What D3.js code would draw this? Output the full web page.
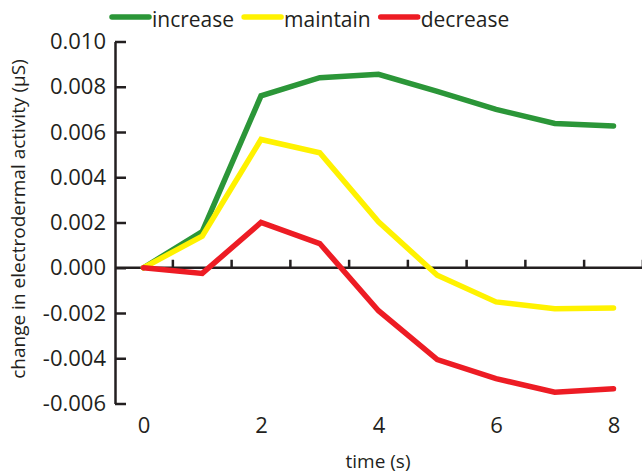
<!DOCTYPE html>
<html>
<head>
<meta charset="utf-8">
<script src="https://cdn.jsdelivr.net/npm/d3@7"></script>
<style>
  body { margin: 0; background: #fff; }
  svg { display: block; font-family: "Open Sans", sans-serif; }
</style>
</head>
<body>
<div id="chart"></div>
<script>
// time points (s)
const times = [0, 1, 2, 3, 4, 5, 6, 7, 8];

// change in electrodermal activity (µS)
const increase = [0, 0.0016, 0.0076, 0.0084, 0.00855, 0.0078, 0.0070, 0.00638, 0.00627];
const maintain = [0, 0.0014, 0.00567, 0.00508, 0.00203, -0.00033, -0.00151, -0.00181, -0.00178];
const decrease = [0, -0.00025, 0.0020, 0.00107, -0.0019, -0.00406, -0.0049, -0.0055, -0.00535];

const seriesNames = ["increase", "maintain", "decrease"];
const seriesColors = ["#2b9638", "#fff200", "#ed1c24"];

const yTicks = [0.010, 0.008, 0.006, 0.004, 0.002, 0.000, -0.002, -0.004, -0.006];
const xTicks = [0, 2, 4, 6, 8];
// small ticks on the zero line
const zeroTicks = [0.5, 1.5, 2.5, 3.5, 4.5, 5.5, 6.5, 7.5, 8.5];

const width = 642, height = 473;
const axisColor = "#231f20";

const svg = d3.select("#chart").append("svg")
    .attr("width", width)
    .attr("height", height);

const x = d3.scaleLinear().domain([0, 8]).range([143.5, 613.5]);
const y = d3.scaleLinear().domain([-0.006, 0.010]).range([403.5, 41.5]);
const yAxisX = 115;

// Zero line with upward ticks
svg.append("line")
    .attr("x1", yAxisX).attr("x2", x(8.5))
    .attr("y1", y(0)).attr("y2", y(0))
    .attr("stroke", axisColor).attr("stroke-width", 2.5);

svg.selectAll(".zero-tick")
    .data(zeroTicks)
    .enter().append("line")
    .attr("class", "zero-tick")
    .attr("x1", d => x(d)).attr("x2", d => x(d))
    .attr("y1", y(0)).attr("y2", y(0) - 8)
    .attr("stroke", axisColor).attr("stroke-width", 2.5);

// Y axis: labels on the left, ticks pointing inward
const yAxis = d3.axisLeft(y)
    .tickValues(yTicks)
    .tickFormat(d3.format(".3f"))
    .tickSizeInner(-11)
    .tickSizeOuter(0)
    .tickPadding(9);

const yg = svg.append("g")
    .attr("transform", `translate(${yAxisX},0)`)
    .call(yAxis);
yg.select(".domain").attr("stroke", axisColor).attr("stroke-width", 2.5);
yg.selectAll(".tick line").attr("stroke", axisColor).attr("stroke-width", 2.5);
yg.selectAll(".tick text")
    .attr("fill", axisColor)
    .style("font-size", "22px")
    .style("font-family", "'Open Sans', sans-serif")
    .text(d => d3.format(".3f")(d).replace("−", "-"));

// X axis: labels only
const xAxis = d3.axisBottom(x)
    .tickValues(xTicks)
    .tickSize(0)
    .tickPadding(13.5);

const xg = svg.append("g")
    .attr("transform", `translate(0,${y(-0.006)})`)
    .call(xAxis);
xg.select(".domain").remove();
xg.selectAll(".tick text")
    .attr("fill", axisColor)
    .style("font-size", "22px")
    .style("font-family", "'Open Sans', sans-serif");

// Axis titles
svg.append("text")
    .attr("x", 378).attr("y", 468)
    .attr("text-anchor", "middle")
    .attr("fill", axisColor)
    .style("font-size", "19px")
    .text("time (s)");

svg.append("text")
    .attr("transform", "translate(25,219) rotate(-90)")
    .attr("text-anchor", "middle")
    .attr("fill", axisColor)
    .style("font-size", "19px")
    .text("change in electrodermal activity (μS)");

// Lines
const allSeries = [increase, maintain, decrease];
const line = d3.line()
    .x((d, i) => x(times[i]))
    .y(d => y(d));

svg.selectAll(".series")
    .data(allSeries)
    .enter().append("path")
    .attr("class", "series")
    .attr("d", line)
    .attr("fill", "none")
    .attr("stroke", (d, i) => seriesColors[i])
    .attr("stroke-width", 5.5)
    .attr("stroke-linecap", "round")
    .attr("stroke-linejoin", "miter");

// Legend
const legend = svg.append("g");
let lx = 112;
seriesNames.forEach((name, i) => {
    legend.append("line")
        .attr("x1", lx).attr("x2", lx + 37)
        .attr("y1", 17).attr("y2", 17)
        .attr("stroke", seriesColors[i])
        .attr("stroke-width", 5.5)
        .attr("stroke-linecap", "round");
    const t = legend.append("text")
        .attr("x", lx + 40).attr("y", 27)
        .attr("fill", axisColor)
        .style("font-size", "21px")
        .text(name);
    lx += 40 + t.node().getComputedTextLength() + 10;
});
</script>
</body>
</html>
